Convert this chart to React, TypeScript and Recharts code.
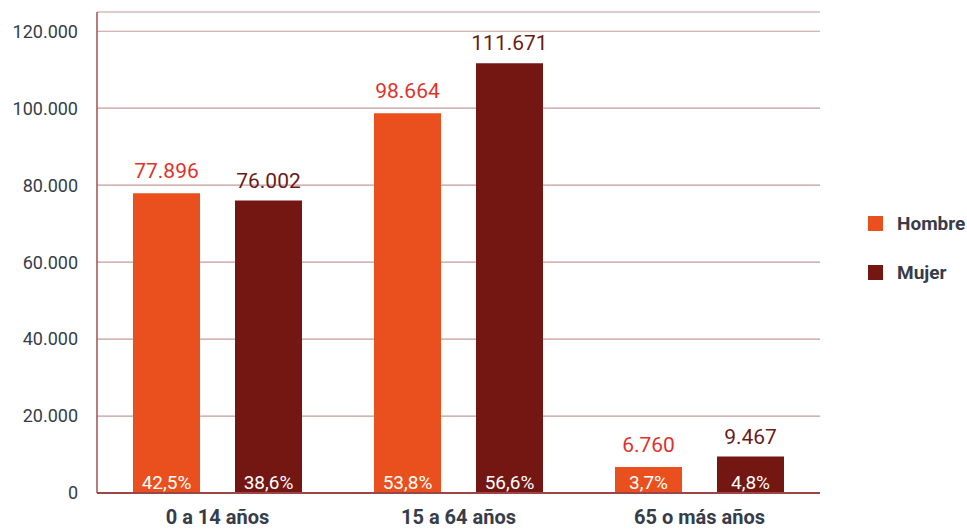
import { BarChart, Bar, XAxis, YAxis, CartesianGrid, LabelList, Legend } from 'recharts';

const categories = ['0 a 14 años', '15 a 64 años', '65 o más años'];
const hombre = [77896, 98664, 6760];
const mujer = [76002, 111671, 9467];
const hombrePct = ['42,5%', '53,8%', '3,7%'];
const mujerPct = ['38,6%', '56,6%', '4,8%'];
const yTicks = [0, 20000, 40000, 60000, 80000, 100000, 120000];

const data = categories.map((name, i) => ({
  name,
  hombre: hombre[i],
  mujer: mujer[i],
  hombrePct: hombrePct[i],
  mujerPct: mujerPct[i],
}));

const FONT = 'Roboto, sans-serif';
const HOMBRE = '#e9501d';
const MUJER = '#741611';
const TEXT = '#363c48';

const fmt = (v: unknown) => String(v).replace(/\B(?=(\d{3})+(?!\d))/g, '.');

const legendItems = [
  { label: 'Hombre', color: HOMBRE },
  { label: 'Mujer', color: MUJER },
];

const renderLegend = () => (
  <div style={{ fontFamily: FONT, fontWeight: 'bold', fontSize: 19, color: TEXT, whiteSpace: 'nowrap' }}>
    {legendItems.map((it) => (
      <div key={it.label} style={{ display: 'flex', alignItems: 'center', height: 49 }}>
        <span style={{ flexShrink: 0, width: 15, height: 15, background: it.color, marginRight: 14 }} />
        {it.label}
      </div>
    ))}
  </div>
);

export default function App() {
  return (
    <div style={{ position: 'absolute', left: 0, top: 0, background: '#fff' }}>
      <BarChart
        width={967}
        height={531}
        data={data}
        margin={{ top: 12, right: 147, bottom: 0, left: 0 }}
        barSize={67}
        barGap={35}
      >
        <CartesianGrid vertical={false} stroke="#c49a9a" strokeWidth={1.2} />
        <YAxis
          width={97}
          domain={[0, 125000]}
          ticks={yTicks}
          tickFormatter={fmt}
          tickLine={false}
          tickSize={0}
          tickMargin={19}
          axisLine={{ stroke: '#9e5252', strokeWidth: 1.5 }}
          tick={{ fill: TEXT, fontSize: 18, fontFamily: FONT }}
        />
        <XAxis
          dataKey="name"
          height={38}
          tickLine={false}
          tickSize={0}
          tickMargin={17}
          axisLine={{ stroke: '#9b4646', strokeWidth: 2 }}
          tick={{ fill: TEXT, fontSize: 20, fontFamily: FONT, fontWeight: 'bold' }}
        />
        <Legend
          layout="vertical"
          align="center"
          verticalAlign="middle"
          content={renderLegend}
          wrapperStyle={{ left: 868, top: 199, width: 99 }}
        />
        <Bar dataKey="hombre" fill={HOMBRE} isAnimationActive={false}>
          <LabelList dataKey="hombre" position="top" offset={15} formatter={fmt} fill="#e0322b" fontSize={21} fontFamily={FONT} />
          <LabelList dataKey="hombrePct" position="insideBottom" offset={4} fill="#ffffff" fontSize={19} fontFamily={FONT} />
        </Bar>
        <Bar dataKey="mujer" fill={MUJER} isAnimationActive={false}>
          <LabelList dataKey="mujer" position="top" offset={13} formatter={fmt} fill="#6b1b17" fontSize={21} fontFamily={FONT} />
          <LabelList dataKey="mujerPct" position="insideBottom" offset={4} fill="#ffffff" fontSize={19} fontFamily={FONT} />
        </Bar>
      </BarChart>
    </div>
  );
}
